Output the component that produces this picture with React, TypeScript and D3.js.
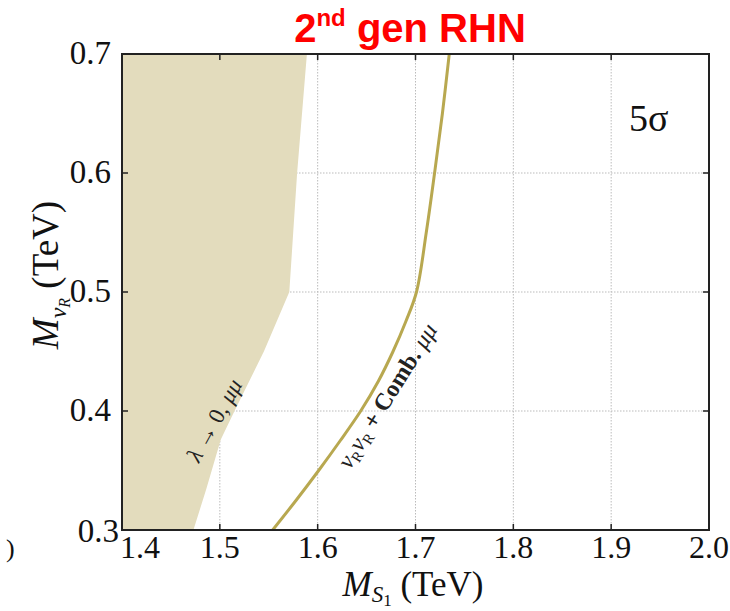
import React from "react";
import * as d3 from "d3";

const xTicks = [1.4, 1.5, 1.6, 1.7, 1.8, 1.9, 2.0];
const yTicks = [0.3, 0.4, 0.5, 0.6, 0.7];
// excluded region boundary (lambda -> 0, mu mu)
const shadeX = [1.589, 1.584, 1.579, 1.575, 1.571, 1.545, 1.515, 1.501, 1.486, 1.473];
const shadeY = [0.7, 0.65, 0.6, 0.55, 0.5, 0.45, 0.4, 0.376, 0.334, 0.3];
// nu_R nu_R + Comb. mu mu 5 sigma curve
const curveX = [1.554, 1.578, 1.601, 1.623, 1.644, 1.662, 1.677, 1.69, 1.701, 1.711, 1.7195, 1.7275, 1.7345];
const curveY = [0.3, 0.325, 0.35, 0.375, 0.4, 0.425, 0.45, 0.475, 0.5, 0.55, 0.6, 0.65, 0.7];

export default function App() {
  const W = 730, H = 611;
  const L = 122, R = 709, T = 54, B = 530;
  const x = d3.scaleLinear().domain([1.4, 2.0]).range([L, R]);
  const y = d3.scaleLinear().domain([0.3, 0.7]).range([B, T]);
  const serif = "Liberation Serif, Times New Roman, Times, DejaVu Serif, serif";

  const shadePts: [number, number][] = [[1.4, 0.7], ...shadeX.map((v, i) => [v, shadeY[i]] as [number, number]), [1.4, 0.3]];
  const area = d3.line<[number, number]>().x(d => x(d[0])).y(d => y(d[1]))(shadePts) + "Z";
  const curve = d3.line<[number, number]>().x(d => x(d[0])).y(d => y(d[1])).curve(d3.curveCatmullRom.alpha(0.5))(
    curveX.map((v, i) => [v, curveY[i]] as [number, number])
  );

  return (
    <svg width={W} height={H} style={{ position: "absolute", left: 0, top: 0, background: "#fff" }}>
      <rect width={W} height={H} fill="#fff" />
      <defs>
        <clipPath id="clip"><rect x={L} y={T} width={R - L} height={B - T} /></clipPath>
      </defs>
      {xTicks.slice(1, -1).map(t => (
        <line key={"gx" + t} x1={x(t)} x2={x(t)} y1={T} y2={B} stroke="#bbb" strokeWidth={1} strokeDasharray="1.5,1.5" />
      ))}
      {yTicks.slice(1, -1).map(t => (
        <line key={"gy" + t} x1={L} x2={R} y1={y(t)} y2={y(t)} stroke="#bbb" strokeWidth={1} strokeDasharray="1.5,1.5" />
      ))}
      <g clipPath="url(#clip)">
        <path d={area} fill="#e3dcbd" stroke="none" />
        <path d={curve || ""} fill="none" stroke="#b8a850" strokeWidth={3} />
      </g>
      {/* ticks */}
      {xTicks.slice(1, -1).map(t => (
        <g key={"tx" + t}>
          <line x1={x(t)} x2={x(t)} y1={B} y2={B - 6} stroke="#222" strokeWidth={1.5} />
          <line x1={x(t)} x2={x(t)} y1={T} y2={T + 6} stroke="#222" strokeWidth={1.5} />
        </g>
      ))}
      {yTicks.slice(1, -1).map(t => (
        <g key={"ty" + t}>
          <line x1={L} x2={L + 6} y1={y(t)} y2={y(t)} stroke="#222" strokeWidth={1.5} />
          <line x1={R} x2={R - 6} y1={y(t)} y2={y(t)} stroke="#222" strokeWidth={1.5} />
        </g>
      ))}
      <rect x={L} y={T} width={R - L} height={B - T} fill="none" stroke="#222" strokeWidth={2} />
      {/* tick labels */}
      {xTicks.map(t => (
        <text key={"lx" + t} x={x(t) + (t === 1.4 ? 18 : 0)} y={B + 28} textAnchor="middle" style={{ fontFamily: serif }} fontSize={32} fill="#111">
          {t.toFixed(1)}
        </text>
      ))}
      {yTicks.map(t => (
        <text key={"ly" + t} x={t === 0.3 ? 119 : 111} y={y(t) + (t === 0.3 ? 12 : 10)} textAnchor="end" style={{ fontFamily: serif }} fontSize={33} fill="#111">
          {t.toFixed(1)}
        </text>
      ))}
      <text x={6} y={557} style={{ fontFamily: serif }} fontSize={26} fill="#111">)</text>
      {/* axis titles */}
      <text x={413} y={596} textAnchor="middle" style={{ fontFamily: serif }} fontSize={35} fill="#111">
        <tspan fontStyle="italic">M</tspan>
        <tspan fontStyle="italic" fontSize={23} dy={6}>S</tspan>
        <tspan fontSize={17} dy={4}>1</tspan>
        <tspan dy={-10}> (TeV)</tspan>
      </text>
      <text transform="translate(58,275) rotate(-90)" textAnchor="middle" style={{ fontFamily: serif }} fontSize={37} fill="#111">
        <tspan fontStyle="italic">M</tspan>
        <tspan fontStyle="italic" fontSize={24} dy={8}>ν</tspan>
        <tspan fontStyle="italic" fontSize={16} dy={4}>R</tspan>
        <tspan dy={-12}> (TeV)</tspan>
      </text>
      {/* title */}
      <text x={410} y={42} textAnchor="middle" style={{ fontFamily: "Liberation Sans, Arial, sans-serif" }} fontWeight="bold" fontSize={40} fill="#ff0000">
        <tspan>2</tspan>
        <tspan fontSize={24} dy={-16}>nd</tspan>
        <tspan dy={16}> gen RHN</tspan>
      </text>
      {/* 5 sigma */}
      <text x={629} y={131} style={{ fontFamily: serif }} fontSize={38} fill="#111">5σ</text>
      {/* curve labels */}
      <text transform="translate(221,424) rotate(-61)" textAnchor="middle" style={{ fontFamily: serif }} fontSize={23} fill="#222">
        <tspan fontStyle="italic">λ</tspan> → 0, <tspan fontStyle="italic">μμ</tspan>
      </text>
      <text transform="translate(394,400) rotate(-58)" textAnchor="middle" style={{ fontFamily: serif }} fontSize={24} fill="#222">
        <tspan fontStyle="italic">ν</tspan><tspan fontSize={15} dy={4}>R</tspan><tspan fontStyle="italic" dy={-4}>ν</tspan><tspan fontSize={15} dy={4}>R</tspan>
        <tspan dy={-4} fontWeight="bold"> + Comb. </tspan><tspan fontStyle="italic">μμ</tspan>
      </text>
    </svg>
  );
}
